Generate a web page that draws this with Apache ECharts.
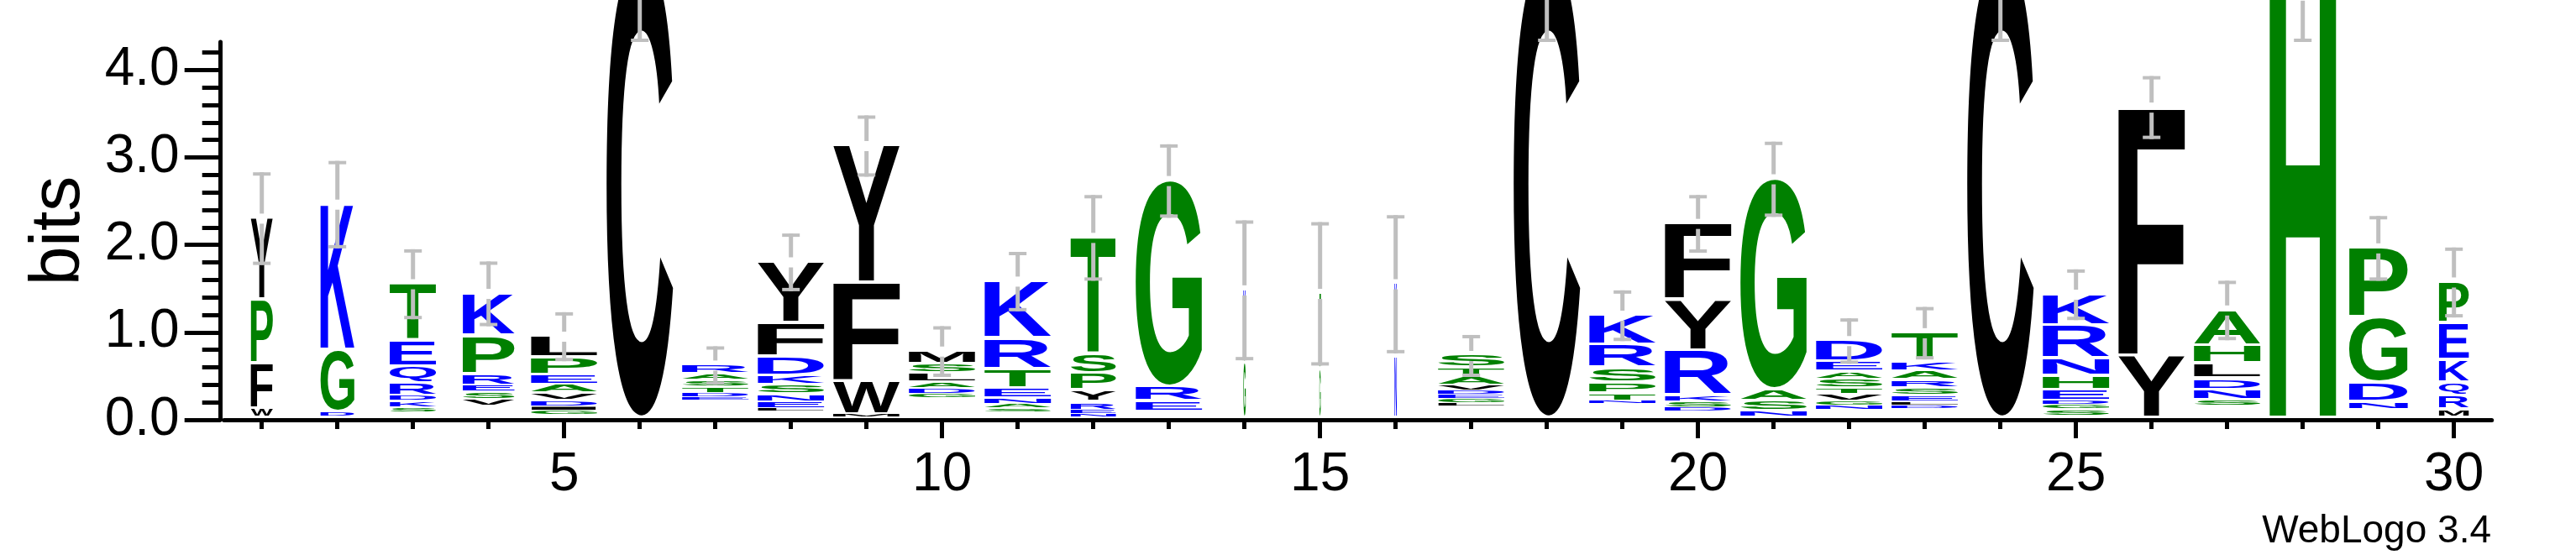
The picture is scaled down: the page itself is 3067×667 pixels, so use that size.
<!DOCTYPE html>
<html>
<head>
<meta charset="utf-8">
<script src="https://cdn.jsdelivr.net/npm/echarts@6/dist/echarts.min.js"></script>
<style>
html,body{margin:0;padding:0;background:#ffffff;}
#chart{width:3067px;height:667px;}
</style>
</head>
<body>
<div id="chart"></div>
<script>
const positions = [1,2,3,4,5,6,7,8,9,10,11,12,13,14,15,16,17,18,19,20,21,22,23,24,25,26,27,28,29,30];

// relative stack width (fraction of non-gap symbols)
const widthFrac = [0.33,0.51,0.70,0.78,1,1,1,1,1,1,1,0.68,1,0.035,0.02,0.035,1,1,1,1,1,1,1,1,1,1,1,1,0.88,0.45];

// summed height (bits) of the many tiny symbols at the bottom that are too small to be seen
const restBits = [0.03,0.04,0.086,0.16,0.058,0.03,0.22,0.096,0.038,0.256,0.093,0.032,0.102,0.03,0.03,0.03,0.154,0.03,0.186,0.096,0.038,0.118,0.128,0.03,0.051,0.03,0.166,0.03,0.122,0.032];

// visible letters, bottom -> top, [letter, bits]
const stacks = [
  [['W',0.10],['F',0.52],['P',0.73],['Y',0.92]],
  [['D',0.06],['G',0.71],['K',1.65]],
  [['S',0.061],['K',0.071],['D',0.062],['R',0.145],['Q',0.192],['E',0.298],['T',0.635]],
  [['V',0.077],['S',0.083],['E',0.077],['R',0.134],['P',0.439],['K',0.47]],
  [['G',0.051],['I',0.048],['D',0.07],['V',0.086],['A',0.096],['E',0.112],['P',0.196],['L',0.233]],
  [['C',5.27]],
  [['E',0.041],['D',0.048],['T',0.075],['S',0.072],['A',0.075],['R',0.089]],
  [['L',0.035],['E',0.077],['N',0.088],['S',0.112],['K',0.105],['D',0.218],['F',0.384],['Y',0.685]],
  [['M',0.029],['W',0.376],['F',1.136],['Y',1.551]],
  [['G',0.045],['D',0.064],['A',0.072],['L',0.102],['S',0.106],['M',0.135]],
  [['S',0.041],['A',0.045],['N',0.067],['E',0.122],['T',0.219],['R',0.353],['K',0.64]],
  [['N',0.038],['E',0.045],['R',0.093],['Y',0.133],['P',0.195],['S',0.221],['T',1.323]],
  [['E',0.114],['R',0.168],['G',2.346]],
  [['G',0.63],['S',0.40],['K',0.42]],
  [['G',0.56],['S',0.45],['T',0.40]],
  [['N',0.71],['D',0.40],['K',0.41]],
  [['L',0.038],['G',0.048],['E',0.048],['D',0.051],['V',0.061],['A',0.096],['T',0.107],['S',0.127]],
  [['C',5.27]],
  [['N',0.033],['T',0.088],['P',0.125],['S',0.168],['R',0.267],['K',0.323]],
  [['D',0.051],['S',0.064],['K',0.072],['R',0.517],['Y',0.584],['F',0.856]],
  [['N',0.069],['S',0.117],['A',0.131],['G',2.395]],
  [['N',0.042],['G',0.056],['V',0.08],['T',0.075],['S',0.098],['A',0.086],['E',0.118],['D',0.227]],
  [['D',0.04],['L',0.04],['E',0.072],['S',0.091],['R',0.093],['A',0.096],['K',0.112],['T',0.318]],
  [['C',5.27]],
  [['S',0.071],['G',0.054],['D',0.043],['E',0.13],['H',0.158],['N',0.20],['R',0.379],['K',0.344]],
  [['Y',0.709],['F',2.831]],
  [['S',0.069],['N',0.114],['D',0.128],['L',0.174],['H',0.205],['A',0.394]],
  [['H',4.82]],
  [['N',0.089],['D',0.219],['G',0.749],['P',0.781]],
  [['M',0.093],['R',0.16],['Q',0.15],['K',0.261],['E',0.419],['P',0.455]]
];

// error bar half-length (bits), centred on the stack top
const errBits = [0.53,0.50,0.40,0.37,0.28,0.98,0.22,0.33,0.35,0.29,0.34,0.49,0.42,0.80,0.82,0.79,0.24,0.98,0.29,0.33,0.43,0.26,0.30,0.98,0.29,0.36,0.34,0.53,0.37,0.40];

// axis ticks / labels
const xMinorTicks = positions;
const xMajorTicks = [5,10,15,20,25,30];
const yMinorTicks = [0,0.2,0.4,0.6,0.8,1.0,1.2,1.4,1.6,1.8,2.0,2.2,2.4,2.6,2.8,3.0,3.2,3.4,3.6,3.8,4.0,4.2];
const yMajorTicks = [0,1,2,3,4];
const yMax = 4.32;

// hydrophobicity colour scheme
const colorGroups = [
  {letters:'RKDENQ', color:'#0000ff'},
  {letters:'SGHTAP', color:'#008000'},
  {letters:'YVMCLFIW', color:'#000000'}
];

// ---------------- helpers ----------------
function colorOf(ch){
  for (const g of colorGroups) if (g.letters.indexOf(ch) >= 0) return g.color;
  return '#000000';
}
const LETTER_FONT = 'bold 200px "Liberation Sans"';
const mctx = document.createElement('canvas').getContext('2d');
const metricCache = {};
function glyph(ch){
  if (!metricCache[ch]) {
    mctx.font = LETTER_FONT;
    mctx.textBaseline = 'middle';
    mctx.textAlign = 'left';
    const m = mctx.measureText(ch);
    metricCache[ch] = {L:m.actualBoundingBoxLeft, R:m.actualBoundingBoxRight, A:m.actualBoundingBoxAscent, D:m.actualBoundingBoxDescent};
  }
  return metricCache[ch];
}
const stackTop = stacks.map((s,i) => s.reduce((a,b)=>a+b[1], restBits[i]));
const FULL_WIDTH = 0.88;

function renderLetters(params, api){
  const i = params.dataIndex;
  const pos = api.value(0);
  const cx = api.coord([pos, 0])[0];
  const w = api.size([1, 0])[0] * FULL_WIDTH * widthFrac[i];
  let base = restBits[i];
  const stack = stacks[i];
  const children = [];
  stack.forEach((item, k) => {
    const ch = item[0], h = item[1];
    const yBottom = api.coord([pos, base])[1];
    const yTop = api.coord([pos, base + h])[1];
    base += h;
    const boxH = yBottom - yTop;
    const pad = Math.min(2, boxH * 0.15);
    const top = yTop + (k === stack.length - 1 ? 0 : pad);
    const bottom = yBottom - pad;
    const hh = bottom - top;
    if (hh < 0.8) return;
    const g = glyph(ch);
    const sx = w / (g.L + g.R);
    const sy = hh / (g.A + g.D);
    children.push({
      type: 'text',
      x: cx - w / 2 + g.L * sx,
      y: top + g.A * sy,
      scaleX: sx,
      scaleY: sy,
      silent: true,
      style: {text: ch, font: LETTER_FONT, fill: colorOf(ch), align: 'left', verticalAlign: 'middle'}
    });
  });
  return {type: 'group', children: children};
}

function renderErr(params, api){
  const pos = api.value(0);
  const top = api.value(1);
  const err = api.value(2);
  const cx = api.coord([pos, 0])[0];
  const yc = api.coord([pos, top])[1];
  const yHi = api.coord([pos, top + err])[1];
  const yLo = api.coord([pos, top - err])[1];
  const lw = 5, capW = 21, capH = 4, gap = 6;
  const st = {fill: '#bfbfbf'};
  const ch = [];
  if (yc - gap > yHi) ch.push({type:'rect', shape:{x: cx - lw/2, y: yHi, width: lw, height: (yc - gap) - yHi}, style: st});
  if (yLo > yc + gap) ch.push({type:'rect', shape:{x: cx - lw/2, y: yc + gap, width: lw, height: yLo - (yc + gap)}, style: st});
  ch.push({type:'rect', shape:{x: cx - capW/2, y: yHi, width: capW, height: capH}, style: st});
  ch.push({type:'rect', shape:{x: cx - capW/2, y: yLo - capH, width: capW, height: capH}, style: st});
  return {type:'group', silent: true, children: ch};
}

// ---------------- chart ----------------
const chart = echarts.init(document.getElementById('chart'), null, {renderer: 'canvas'});
const FONT = 'Liberation Sans';
const axisBase = {
  type: 'value', min: 0.5, max: 30.5, position: 'bottom', splitLine: {show: false}
};
chart.setOption({
  animation: false,
  backgroundColor: '#ffffff',
  grid: {left: 266.7, right: 100.3, top: 50, bottom: 167},
  xAxis: [
    Object.assign({}, axisBase, {
      axisLine: {show: true, lineStyle: {color: '#000', width: 5}},
      axisTick: {show: true, customValues: xMinorTicks, length: 11, lineStyle: {color: '#000', width: 5}},
      axisLabel: {show: true, customValues: xMajorTicks, margin: 34, color: '#000', fontSize: 64, fontFamily: FONT}
    }),
    Object.assign({}, axisBase, {
      axisLine: {show: false},
      axisTick: {show: true, customValues: xMajorTicks, length: 22, lineStyle: {color: '#000', width: 5}},
      axisLabel: {show: false}
    })
  ],
  yAxis: [
    {
      type: 'value', min: 0, max: yMax, position: 'left', offset: 4,
      splitLine: {show: false},
      axisLine: {show: true, lineStyle: {color: '#000', width: 5}},
      axisTick: {show: true, customValues: yMinorTicks, length: 22, lineStyle: {color: '#000', width: 5}},
      axisLabel: {show: true, customValues: yMajorTicks, margin: 49, color: '#000', fontSize: 64, fontFamily: FONT,
                  formatter: v => Number(v).toFixed(1)},
      name: 'bits', nameLocation: 'middle', nameRotate: 90, nameGap: 150,
      nameTextStyle: {color: '#000', fontSize: 84, fontFamily: FONT}
    },
    {
      type: 'value', min: 0, max: yMax, position: 'left', offset: 4,
      splitLine: {show: false},
      axisLine: {show: false},
      axisTick: {show: true, customValues: yMajorTicks, length: 43, lineStyle: {color: '#000', width: 5}},
      axisLabel: {show: false}
    }
  ],
  graphic: [{
    type: 'text', x: 2966, y: 633,
    style: {text: 'WebLogo 3.4', font: '46px "Liberation Sans"', fill: '#000', align: 'right', verticalAlign: 'middle'}
  }],
  series: [
    {
      type: 'custom', name: 'letters', xAxisIndex: 0, yAxisIndex: 0, clip: false, z: 2,
      encode: {x: 0, y: 1},
      renderItem: renderLetters,
      data: positions.map((p, i) => [p, stackTop[i]])
    },
    {
      type: 'custom', name: 'errorbars', xAxisIndex: 0, yAxisIndex: 0, clip: false, z: 3,
      encode: {x: 0, y: 1},
      renderItem: renderErr,
      data: positions.map((p, i) => [p, stackTop[i], errBits[i]])
    }
  ]
});
</script>
</body>
</html>
